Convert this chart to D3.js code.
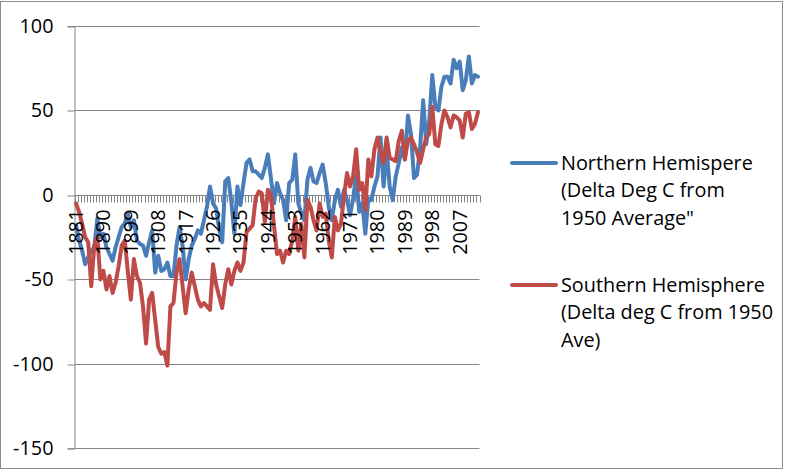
<!DOCTYPE html>
<html>
<head>
<meta charset="utf-8">
<script src="https://cdn.jsdelivr.net/npm/d3@7"></script>
<style>
  html, body { margin: 0; padding: 0; background: #fff; }
  svg { display: block; }
  text { font-family: "Open Sans", "Liberation Sans", sans-serif; fill: #000; }
</style>
</head>
<body>
<svg id="chart" width="786" height="472"></svg>
<script>
// ---- data ----
const startYear = 1881;
const years = d3.range(1881, 2014);
const yTicks = [100, 50, 0, -50, -100, -150];
const xLabelEvery = 9;

const northern = [
  -18, -27, -33, -41, -37, -33, -31, -14, -25, -23,
  -31, -35, -39, -31, -25, -19, -17, -11, -19, -15,
  -27, -29, -30, -36, -28, -21, -46, -36, -45, -44,
  -40, -48, -48, -30, -19, -30, -50, -38, -30, -26,
  -21, -23, -15, -7, 5, -5, -8, -20, -28, 8,
  10, -4, -23, 5, -6, 7, 19, 21, 14, 14,
  12, 10, 16, 24, 10, -5, 7, 1, -3, -15,
  7, 9, 24, -5, -11, -15, 9, 16, 8, 7,
  13, 18, 7, -7, -15, -3, 3, -7, 3, -3,
  -12, -2, 12, -10, -5, -23, -2, -3, 5, 11,
  34, 5, 27, 5, -3, 11, 19, 28, 21, 47,
  36, 10, 12, 28, 56, 30, 44, 71, 52, 50,
  64, 70, 70, 66, 80, 75, 79, 62, 68, 82,
  66, 71, 70
];

const southern = [
  -5, -10, -17, -25, -28, -54, -30, -25, -50, -45,
  -56, -48, -58, -52, -42, -30, -27, -45, -62, -38,
  -48, -52, -66, -88, -62, -58, -74, -90, -94, -93,
  -101, -66, -64, -46, -38, -54, -70, -56, -46, -54,
  -62, -66, -64, -66, -68, -41, -53, -60, -67, -53,
  -44, -53, -45, -40, -45, -40, -22, -20, -18, -2,
  2, 1, -16, 3, 0, -18, -35, -33, -40, -33,
  -35, -27, -13, -33, -17, -37, -3, -7, -15, -21,
  -5, -13, -11, -27, -37, -13, -21, -17, -1, 13,
  5, 11, 27, 3, 7, -9, 21, 11, 27, 34,
  25, 19, 34, 22, 21, 20, 32, 38, 21, 32,
  34, 30, 25, 19, 27, 34, 36, 52, 30, 29,
  42, 50, 46, 40, 47, 46, 44, 34, 48, 49,
  39, 42, 49
];

const seriesNames = [
  ["Northern Hemispere", "(Delta Deg C from", "1950 Average\""],
  ["Southern Hemisphere", "(Delta deg C from 1950", "Ave)"]
];
const seriesColors = ["#4a7ebb", "#be4b48"];

// ---- layout ----
const svg = d3.select("#chart");
const W = 786, H = 472;
const plot = { left: 74.5, right: 479.5, top: 26, bottom: 448.3 };

svg.append("rect").attr("x", 0).attr("y", 0).attr("width", W).attr("height", H).attr("fill", "#fff");
svg.append("rect").attr("x", 0.5).attr("y", 1.5).attr("width", 782).attr("height", 467)
  .attr("fill", "none").attr("stroke", "#8c8c8c").attr("stroke-width", 1);

// font sizing: fit legend text width
const probe = svg.append("text").attr("font-size", 18).text("Southern Hemisphere");
const probeW = probe.node().getComputedTextLength();
probe.remove();
const fs = Math.max(14, Math.min(20, 18 * 204 / probeW));

const x = d3.scaleBand().domain(years).range([plot.left, plot.right]).padding(0);
const y = d3.scaleLinear().domain([-150, 100]).range([plot.bottom, plot.top]);

// gridlines
svg.append("g").selectAll("line").data(yTicks).join("line")
  .attr("x1", plot.left).attr("x2", plot.right)
  .attr("y1", d => Math.round(y(d)) + 0.5).attr("y2", d => Math.round(y(d)) + 0.5)
  .attr("stroke", "#868686").attr("stroke-width", 1);

// y axis
const yAxis = d3.axisLeft(y).tickValues(yTicks).tickSize(7).tickPadding(14).tickFormat(d => String(d));
const gy = svg.append("g").attr("transform", `translate(${plot.left},0)`).call(yAxis);
gy.select(".domain").attr("stroke", "#868686");
gy.selectAll(".tick line").attr("stroke", "#868686")
  .attr("transform", function(d){ return `translate(0,${Math.round(y(d)) + 0.5 - y(d)})`; });
gy.selectAll(".tick text").attr("font-size", fs).attr("font-family", "Open Sans, Liberation Sans, sans-serif").attr("fill", "#000");

// x axis line and category tick marks at y=0
const y0 = Math.round(y(0)) + 0.5;
const gx = svg.append("g");
const boundaries = years.map(d => x(d)).concat([plot.right]);
gx.selectAll("line.tk").data(boundaries).join("line").attr("class", "tk")
  .attr("x1", d => Math.round(d) + 0.5).attr("x2", d => Math.round(d) + 0.5)
  .attr("y1", y0).attr("y2", y0 + 7)
  .attr("stroke", "#868686").attr("stroke-width", 1);
gx.append("line").attr("x1", plot.left).attr("x2", plot.right).attr("y1", y0).attr("y2", y0)
  .attr("stroke", "#868686");

// series lines
const line = d3.line().x((d, i) => x(years[i]) + x.bandwidth() / 2).y(d => y(d));
[northern, southern].forEach((s, k) => {
  svg.append("path").datum(s).attr("d", line).attr("fill", "none")
    .attr("stroke", seriesColors[k]).attr("stroke-width", 4)
    .attr("stroke-linejoin", "round").attr("stroke-linecap", "round");
});

// x tick labels drawn above the lines
const labelYears = years.filter(d => (d - startYear) % xLabelEvery === 0);
svg.append("g").selectAll("text").data(labelYears).join("text")
  .attr("transform", d => `translate(${x(d) + x.bandwidth() / 2},${y0 + 14}) rotate(-90)`)
  .attr("text-anchor", "end").attr("dy", "0.35em").attr("font-size", fs)
  .text(d => d);

// legend
const legendTop = [163, 285];
const lh = 27.5;
seriesNames.forEach((lines, k) => {
  const g = svg.append("g");
  g.append("line").attr("x1", 512).attr("x2", 556).attr("y1", legendTop[k]).attr("y2", legendTop[k])
    .attr("stroke", seriesColors[k]).attr("stroke-width", 4).attr("stroke-linecap", "round");
  lines.forEach((t, j) => {
    g.append("text").attr("x", 561).attr("y", legendTop[k] + j * lh).attr("dy", "0.35em")
      .attr("font-size", fs).text(t);
  });
});
</script>
</body>
</html>
